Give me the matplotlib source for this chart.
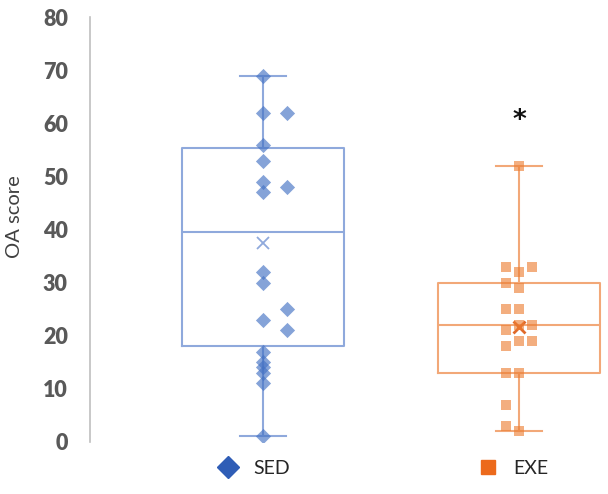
import matplotlib
matplotlib.use("Agg")
import matplotlib.pyplot as plt
from matplotlib.lines import Line2D

plt.rcParams['font.family'] = ['Lato', 'DejaVu Sans']

groups = ["SED", "EXE"]
positions = [1, 2]

# individual points (value, horizontal offset column)
sed_vals = [69, 62, 62, 56, 53, 49, 48, 47, 32, 30, 25, 23, 21, 17, 15, 14, 13, 11, 1]
sed_cols = [0, 0, 1, 0, 0, 0, 1, 0, 0, 0, 1, 0, 1, 0, 0, 0, 0, 0, 0]
exe_vals = [52, 33, 33, 32, 30, 29, 25, 25, 21, 22, 22, 18, 19, 19, 13, 13, 7, 3, 2]
exe_cols = [0, -1, 1, 0, -1, 0, -1, 0, -1, 0, 1, -1, 0, 1, -1, 0, -1, -1, 0]

# box statistics
whislo = [1, 2]
q1 = [18, 13]
med = [39.6, 22]
q3 = [55.3, 30]
whishi = [69, 52]
means = [37.4, 21.7]

box_colors = ["#8FA9DC", "#F2A878"]
pt_colors = ["#4472C4", "#ED7D31"]
legend_colors = ["#2F5DB6", "#EC6A1C"]
markers = ["D", "s"]

fig = plt.figure(figsize=(6.08, 4.94), dpi=100)
ax = fig.add_axes([90/608, (494-441.7)/494, 1-90/608, (441.7-17.3)/494])

stats = []
for i in range(2):
    stats.append(dict(whislo=whislo[i], q1=q1[i], med=med[i], q3=q3[i],
                      whishi=whishi[i], mean=means[i], fliers=[], label=groups[i]))

for i in range(2):
    c = box_colors[i]
    ax.bxp([stats[i]], positions=[positions[i]], widths=0.63, showmeans=True,
           showfliers=False, patch_artist=False,
           boxprops=dict(color=c, linewidth=1.5),
           whiskerprops=dict(color=c, linewidth=1.5),
           capprops=dict(color=c, linewidth=1.5),
           medianprops=dict(color=c, linewidth=1.5),
           meanprops=dict(marker="x", markeredgecolor=c if i == 0 else "#E06A2A",
                          markersize=9, markeredgewidth=1.3 if i == 0 else 2.0),
           capwidths=0.18)

xs = [1 + 0.095 * c for c in sed_cols]
ax.scatter(xs, sed_vals, marker="D", s=60, color=pt_colors[0], alpha=0.65,
           linewidths=0, zorder=3)
xe = [2 + 0.052 * c for c in exe_cols]
ax.scatter(xe, exe_vals, marker="s", s=62, color=pt_colors[1], alpha=0.62,
           linewidths=0, zorder=3)

ax.text(2, 60.5, "*", ha="center", va="center", fontsize=19, color="#111111",
        fontweight="bold", family="DejaVu Sans")

ax.set_xlim(1 - 173/256, 2 + 89/256)
ax.set_ylim(0, 80)
ax.set_yticks(range(0, 81, 10))
ax.set_xticks([])
for s in ["top", "right", "bottom"]:
    ax.spines[s].set_visible(False)
ax.spines["left"].set_color("#BFBFBF")
ax.spines["left"].set_linewidth(1.2)
ax.tick_params(axis="y", length=0, pad=16, labelsize=15.5, labelcolor="#595959")
for t in ax.get_yticklabels():
    t.set_fontweight("heavy")
ax.set_ylabel("OA score", fontsize=14.5, color="#404040")
ax.yaxis.set_label_coords(-0.13, 0.53)

handles = [Line2D([], [], marker=markers[i], linestyle="none", markersize=11 if i == 0 else 10,
                  color=legend_colors[i]) for i in range(2)]
leg = fig.legend(handles, groups, loc="center", bbox_to_anchor=(0.623, 0.052), ncol=2,
                 frameon=False, fontsize=14, columnspacing=9.2, handletextpad=0.3,
                 labelcolor="#262626")
fig.savefig("out.png", dpi=100)
